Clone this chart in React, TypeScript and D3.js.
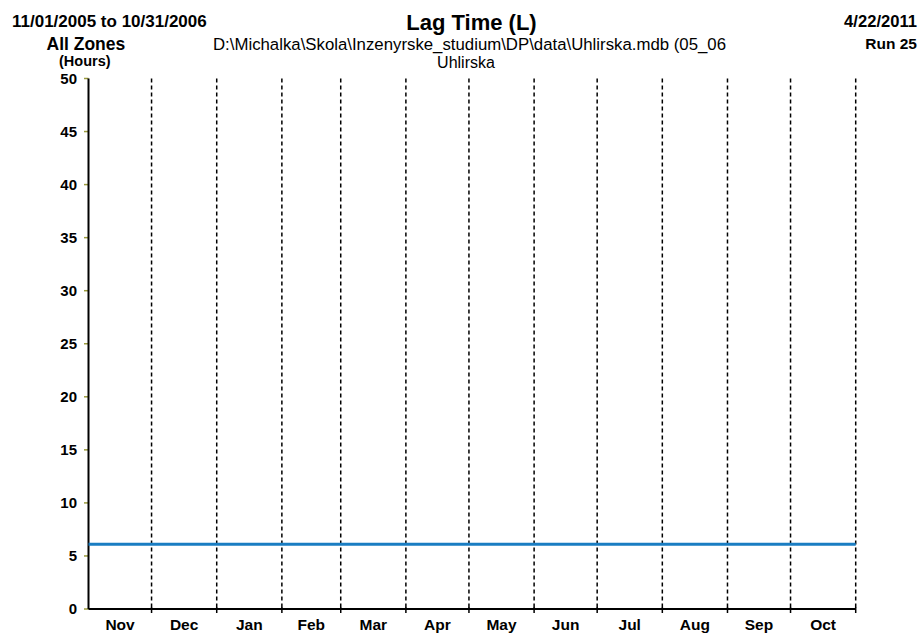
import React from "react";
import * as d3 from "d3";

const monthLabels = ["Nov", "Dec", "Jan", "Feb", "Mar", "Apr", "May", "Jun", "Jul", "Aug", "Sep", "Oct"];
const monthStarts = [
  "2005-11-01", "2005-12-01", "2006-01-01", "2006-02-01", "2006-03-01", "2006-04-01",
  "2006-05-01", "2006-06-01", "2006-07-01", "2006-08-01", "2006-09-01", "2006-10-01", "2006-11-01",
];
const seriesDates = [
  "2005-11-01", "2005-12-01", "2006-01-01", "2006-02-01", "2006-03-01", "2006-04-01",
  "2006-05-01", "2006-06-01", "2006-07-01", "2006-08-01", "2006-09-01", "2006-10-01", "2006-11-01",
];
const lagTimeHours = [6.1, 6.1, 6.1, 6.1, 6.1, 6.1, 6.1, 6.1, 6.1, 6.1, 6.1, 6.1, 6.1];
const yTicks = [0, 5, 10, 15, 20, 25, 30, 35, 40, 45, 50];

const W = 922;
const H = 634;
const left = 88.5;
const right = 855.7;
const top = 78.5;
const bottom = 609;

const parse = d3.utcParse("%Y-%m-%d");

export default function App() {
  const starts = monthStarts.map((s) => parse(s) as Date);
  const x = d3.scaleUtc().domain([starts[0], starts[starts.length - 1]]).range([left, right]);
  const y = d3.scaleLinear().domain([0, 50]).range([bottom, top]);
  const pts = seriesDates.map((d, i) => [x(parse(d) as Date), y(lagTimeHours[i])] as [number, number]);
  const line = d3.line()(pts) || "";
  const font = "'Liberation Sans', Arial, sans-serif";

  return (
    <svg
      width={W}
      height={H}
      style={{ position: "absolute", left: 0, top: 0, background: "#fff" }}
      fontFamily={font}
    >
      {/* header */}
      <text x={12} y={27} fontSize={17} fontWeight="bold" fill="#000">11/01/2005 to 10/31/2006</text>
      <text x={46.5} y={50} fontSize={17.5} fontWeight="bold" fill="#000">All Zones</text>
      <text x={59} y={66} fontSize={14.5} fontWeight="bold" fill="#000">(Hours)</text>
      <text x={471.5} y={30} fontSize={22} fontWeight="bold" textAnchor="middle" fill="#000">Lag Time (L)</text>
      <text x={213} y={50} fontSize={16.8} fill="#000">D:\Michalka\Skola\Inzenyrske_studium\DP\data\Uhlirska.mdb (05_06</text>
      <text x={466} y={68} fontSize={16} textAnchor="middle" fill="#000">Uhlirska</text>
      <text x={917} y={27} fontSize={16.6} fontWeight="bold" textAnchor="end" fill="#000">4/22/2011</text>
      <text x={917} y={49} fontSize={15.5} fontWeight="bold" textAnchor="end" fill="#000">Run 25</text>

      {/* dashed month gridlines */}
      {starts.slice(1).map((d, i) => (
        <line
          key={"g" + i}
          x1={x(d)}
          x2={x(d)}
          y1={top}
          y2={bottom}
          stroke="#000"
          strokeWidth={1.5}
          strokeDasharray="4,3"
        />
      ))}

      {/* y ticks */}
      {yTicks.map((t) => (
        <g key={"y" + t}>
          <line x1={left - 4.5} x2={left} y1={y(t)} y2={y(t)} stroke="#9a9a3c" strokeWidth={1.5} />
          <text x={77} y={y(t)} dy="0.35em" fontSize={15} fontWeight="bold" textAnchor="end" fill="#000">
            {t}
          </text>
        </g>
      ))}

      {/* x ticks */}
      {starts.slice(1).map((d, i) => (
        <line key={"xt" + i} x1={x(d)} x2={x(d)} y1={bottom - 2} y2={bottom + 4} stroke="#000" strokeWidth={1.5} />
      ))}

      {/* month labels */}
      {monthLabels.map((m, i) => (
        <text
          key={m}
          x={(x(starts[i]) + x(starts[i + 1])) / 2}
          y={630}
          fontSize={15.5}
          fontWeight="bold"
          textAnchor="middle"
          fill="#000"
        >
          {m}
        </text>
      ))}

      {/* axes */}
      <line x1={left} x2={left} y1={top} y2={bottom} stroke="#000" strokeWidth={2} />
      <line x1={left} x2={right} y1={bottom} y2={bottom} stroke="#000" strokeWidth={2} />

      {/* series */}
      <path d={line} fill="none" stroke="#1a7dc2" strokeWidth={3} />
    </svg>
  );
}
